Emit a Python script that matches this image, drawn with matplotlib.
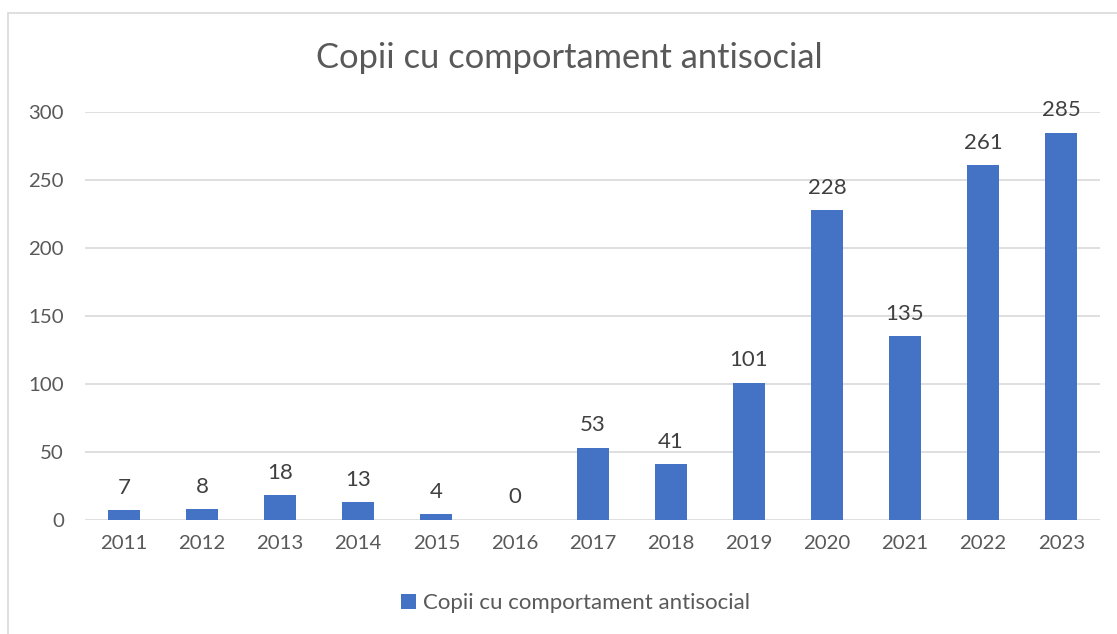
import matplotlib.pyplot as plt
from matplotlib.patches import Rectangle

years = ["2011", "2012", "2013", "2014", "2015", "2016", "2017",
         "2018", "2019", "2020", "2021", "2022", "2023"]
values = [7, 8, 18, 13, 4, 0, 53, 41, 101, 228, 135, 261, 285]
series_name = "Copii cu comportament antisocial"

plt.rcParams['font.family'] = ['Lato', 'DejaVu Sans']
text_color = "#595959"

fig = plt.figure(figsize=(11.17, 6.34), dpi=100)
ax = fig.add_axes([0.076, 0.180, 0.909, 0.643])

x = range(len(years))
bars = ax.bar(x, values, width=0.41, color="#4472c4", label=series_name, zorder=3)
ax.bar_label(bars, labels=[str(v) for v in values], padding=9,
             fontsize=16, color="#404040")

ax.set_xlim(-0.5, len(years) - 0.5)
ax.set_ylim(0, 300)
ax.set_yticks(range(0, 301, 50))
ax.set_xticks(list(x))
ax.set_xticklabels(years)
ax.tick_params(axis="both", length=0, labelsize=14.7, colors=text_color)
ax.tick_params(axis="x", pad=11)
ax.tick_params(axis="y", pad=15)
ax.grid(axis="y", color="#d9d9d9", linewidth=1.2, zorder=0)
for s in ax.spines.values():
    s.set_visible(False)

fig.text(0.510, 0.908, series_name, ha="center", va="center",
         fontsize=24.8, color=text_color)
ax.legend(loc="center", bbox_to_anchor=(0.483, -0.205), frameon=False,
          fontsize=16, labelcolor=text_color, handlelength=0.7,
          handleheight=0.7, handletextpad=0.3)

fig.patches.append(Rectangle((8 / 1117, -0.1), 1.2, 1 - 13 / 634 + 0.1,
                             transform=fig.transFigure, fill=False,
                             edgecolor="#d9d9d9", linewidth=1.2))

fig.savefig("out.png", dpi=100)
